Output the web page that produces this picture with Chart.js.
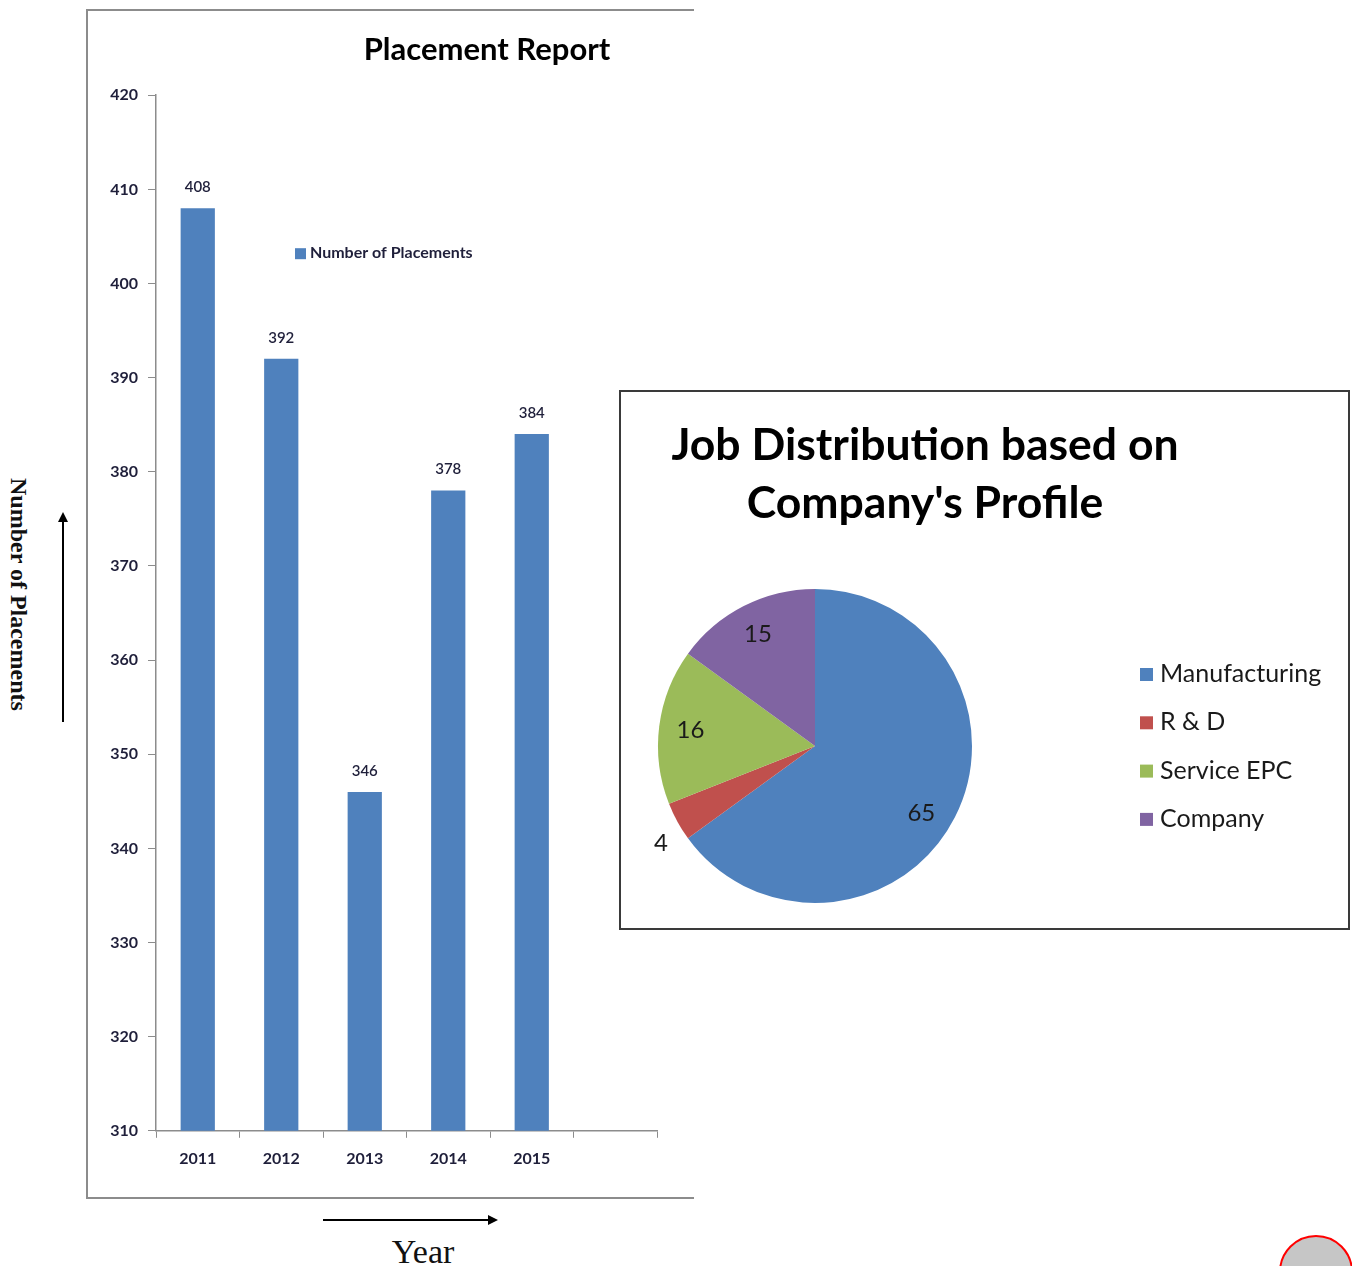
<!DOCTYPE html>
<html>
<head>
<meta charset="utf-8">
<script src="https://cdn.jsdelivr.net/npm/chart.js@4.4.1/dist/chart.umd.min.js"></script>
<style>
    body { margin: 0; width: 1352px; height: 1266px; position: relative; background: #fff; overflow: hidden; font-family: Lato, sans-serif; }
    .abs { position: absolute; }
    #barFrame { left: 86px; top: 9px; width: 606px; height: 1186px; border: 2px solid #8c8c8c; border-right: none; }
    #barCanvas { left: 87px; top: 10px; }
    #pieBox { left: 619px; top: 390px; width: 727px; height: 536px; border: 2px solid #3a3a3a; background: #fff; }
    #pieCanvas { left: 0; top: 0; }
    #pieTitle { left: 4px; top: 22px; width: 600px; text-align: center; font: bold 44.5px/58px Lato, sans-serif; color: #000; }
    #yName { left: 5px; top: 478px; writing-mode: vertical-rl; font: bold 24px 'Liberation Serif', serif; color: #111; }
    #xName { left: 373px; top: 1232px; width: 100px; text-align: center; font: 34px/40px 'Liberation Serif', serif; color: #111; }
    #dot { left: 1279px; top: 1235px; width: 70px; height: 70px; border-radius: 50%; border: 2px solid #f00; background: #c6c6c6; }
</style>
</head>
<body>
<div id="barFrame" class="abs"></div>
<canvas id="barCanvas" class="abs" width="800" height="1187"></canvas>
<div id="yName" class="abs">Number of Placements</div>
<div id="xName" class="abs">Year</div>
<svg class="abs" style="left:0;top:0" width="700" height="1266">
    <defs>
        <marker id="head" markerWidth="10" markerHeight="10" refX="8" refY="5" orient="auto" markerUnits="userSpaceOnUse">
            <path d="M0,0 L10,5 L0,10 z" fill="#000"/>
        </marker>
    </defs>
    <line x1="63" y1="722" x2="63" y2="514" stroke="#000" stroke-width="2" marker-end="url(#head)"/>
    <line x1="323" y1="1220" x2="496" y2="1220" stroke="#000" stroke-width="2" marker-end="url(#head)"/>
</svg>
<div id="pieBox" class="abs">
    <canvas id="pieCanvas" class="abs" width="727" height="536"></canvas>
    <div id="pieTitle" class="abs">Job Distribution based on<br>Company's Profile</div>
</div>
<div id="dot" class="abs"></div>

<script>
// bar chart data
const years = ['2011', '2012', '2013', '2014', '2015', ''];
const placements = [408, 392, 346, 378, 384, null];
const yMin = 310, yMax = 420, yStep = 10;

// pie chart data
const sectors = ['Manufacturing', 'R & D', 'Service EPC', 'Company'];
const shares = [65, 4, 16, 15];

const sectorColors = ['#4F81BD', '#C0504D', '#9BBB59', '#8064A2'];
const axisGrey = '#8c8c8c';
const tickInk = '#1f1f3a';

Chart.defaults.font.family = 'Lato';

// value above each bar
const barLabels = {
    id: 'barLabels',
    afterDatasetsDraw(chart) {
        const ctx = chart.ctx;
        const ds = chart.data.datasets[0];
        ctx.save();
        ctx.font = '600 15px Lato';
        ctx.fillStyle = tickInk;
        ctx.textAlign = 'center';
        ctx.textBaseline = 'middle';
        chart.getDatasetMeta(0).data.forEach((bar, i) => {
            if (ds.data[i] == null) return;
            ctx.fillText(ds.data[i], bar.x, bar.y - 21);
        });
        ctx.restore();
    }
};

// legend sitting inside the plot
const insideLegend = {
    id: 'insideLegend',
    afterDraw(chart) {
        const { ctx, chartArea } = chart;
        const ds = chart.data.datasets[0];
        const x = chartArea.left + 139, y = chartArea.top + 158;
        ctx.save();
        ctx.fillStyle = ds.backgroundColor;
        ctx.fillRect(x, y - 5, 11, 11);
        ctx.font = 'bold 16px Lato';
        ctx.fillStyle = tickInk;
        ctx.textBaseline = 'middle';
        ctx.fillText(ds.label, x + 15, y);
        ctx.restore();
    }
};

const pieLabels = {
    id: 'pieLabels',
    afterDatasetsDraw(chart) {
        const ctx = chart.ctx;
        const vals = chart.data.datasets[0].data;
        ctx.save();
        ctx.font = '24px Lato';
        ctx.fillStyle = '#1a1a1a';
        ctx.textAlign = 'center';
        ctx.textBaseline = 'middle';
        chart.getDatasetMeta(0).data.forEach((arc, i) => {
            let mid = (arc.startAngle + arc.endAngle) / 2;
            let r = arc.outerRadius * 0.8;
            if (vals[i] < 5) { r = arc.outerRadius * 1.16; mid -= 0.06; }
            else if (vals[i] > 50) { mid += 0.09; }
            ctx.fillText(vals[i], arc.x + Math.cos(mid) * r, arc.y + Math.sin(mid) * r);
        });
        ctx.restore();
    }
};

const pieLegend = {
    id: 'pieLegend',
    afterDraw(chart) {
        const ctx = chart.ctx;
        const ds = chart.data.datasets[0];
        ctx.save();
        ctx.font = '25px Lato';
        ctx.textBaseline = 'middle';
        chart.data.labels.forEach((name, i) => {
            const y = 282 + i * 48.3;
            ctx.fillStyle = ds.backgroundColor[i];
            ctx.fillRect(519, y - 6, 13, 13);
            ctx.fillStyle = '#1a1a1a';
            ctx.fillText(name, 539, y);
        });
        ctx.restore();
    }
};

new Chart(document.getElementById('barCanvas'), {
    type: 'bar',
    data: {
        labels: years,
        datasets: [{
            label: 'Number of Placements',
            data: placements,
            backgroundColor: '#4F81BD',
            borderWidth: 0,
            barPercentage: 0.41,
            categoryPercentage: 1
        }]
    },
    options: {
        responsive: false,
        animation: false,
        layout: { padding: { top: 0, left: 0, right: 0, bottom: 18 } },
        plugins: {
            legend: { display: false },
            tooltip: { enabled: false },
            title: {
                display: true,
                text: 'Placement Report',
                color: '#000',
                font: { size: 31, weight: 'bold' },
                padding: { top: 21, bottom: 27 }
            }
        },
        scales: {
            x: {
                grid: { offset: true, drawOnChartArea: false, tickLength: 7, color: axisGrey },
                border: { color: axisGrey, width: 1.5 },
                ticks: { padding: 11, color: tickInk, maxRotation: 0, font: { size: 16, weight: 'bold' } }
            },
            y: {
                min: yMin,
                max: yMax,
                grid: { drawOnChartArea: false, tickLength: 8, color: axisGrey },
                border: { color: axisGrey, width: 1.5 },
                ticks: { stepSize: yStep, padding: 10, color: tickInk, font: { size: 16, weight: 'bold' } },
                afterFit(s) { s.width = 69; }
            },
            // empty right gutter so the title centres on the full original chart width
            gutter: {
                type: 'linear',
                position: 'right',
                grid: { display: false },
                border: { display: false },
                ticks: { display: false },
                afterFit(s) { s.width = 230; }
            }
        }
    },
    plugins: [barLabels, insideLegend]
});

new Chart(document.getElementById('pieCanvas'), {
    type: 'pie',
    data: {
        labels: sectors,
        datasets: [{ data: shares, backgroundColor: sectorColors, borderWidth: 0 }]
    },
    options: {
        responsive: false,
        animation: false,
        layout: { padding: { left: 37, top: 197, right: 376, bottom: 25 } },
        plugins: { legend: { display: false }, tooltip: { enabled: false } }
    },
    plugins: [pieLabels, pieLegend]
});
</script>
</body>
</html>
